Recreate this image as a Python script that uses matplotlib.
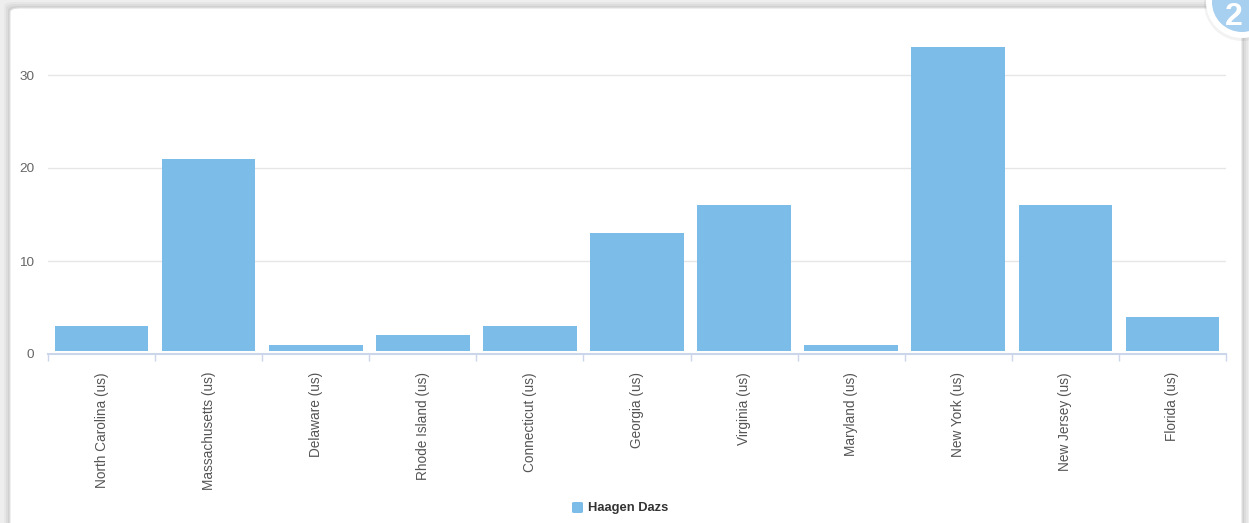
import matplotlib
matplotlib.use("Agg")
import matplotlib.pyplot as plt
from matplotlib.patches import FancyBboxPatch, Circle, Rectangle

categories = ["North Carolina (us)", "Massachusetts (us)", "Delaware (us)", "Rhode Island (us)",
              "Connecticut (us)", "Georgia (us)", "Virginia (us)", "Maryland (us)",
              "New York (us)", "New Jersey (us)", "Florida (us)"]
values = [3, 21, 1, 2, 3, 13, 16, 1, 33, 16, 4]
series_name = "Haagen Dazs"
yticks = [0, 10, 20, 30]

W, H = 1249, 523
DPI = 100
plt.rcParams['font.family'] = ['Liberation Sans', 'DejaVu Sans']

fig = plt.figure(figsize=(W / DPI, H / DPI), dpi=DPI)
fig.patch.set_facecolor('#eeeeee')

# card background with soft shadow
for i, a in enumerate([0.03, 0.04, 0.05]):
    d = (3 - i) * 2
    fig.patches.append(FancyBboxPatch(((10 - d) / W, -20 / H), (1232 + 2 * d) / W, (515 + 20 + d) / H,
                                      boxstyle="round,pad=0,rounding_size=0.008",
                                      transform=fig.transFigure, facecolor='black', alpha=a,
                                      edgecolor='none', zorder=0))
fig.patches.append(FancyBboxPatch((10 / W, -20 / H), 1232 / W, (515 + 20) / H,
                                  boxstyle="round,pad=0,rounding_size=0.008",
                                  transform=fig.transFigure, facecolor='white',
                                  edgecolor='#e2e2e2', linewidth=0.8, zorder=1))

ax_left, ax_right = 48 / W, 1226 / W
ax_bottom, ax_top = (H - 354) / H, (H - 28.5) / H
ax = fig.add_axes([ax_left, ax_bottom, ax_right - ax_left, ax_top - ax_bottom])
ax.set_facecolor('none')
ax.set_zorder(2)

x = list(range(len(categories)))
bars = ax.bar(x, values, width=0.875, color='#7cbce8', edgecolor='none', zorder=3)
# small white gap between bars and axis line
ax_h_px = (ax_top - ax_bottom) * H
ax.add_patch(Rectangle((0, 0), 1, 3.5 / ax_h_px, transform=ax.transAxes,
                       facecolor='white', edgecolor='none', zorder=3.5))

ax.set_xlim(-0.5, len(categories) - 0.5)
ax.set_ylim(0, 35)
ax.set_yticks(yticks)
ax.set_yticklabels([str(t) for t in yticks], fontsize=9.7, color='#666666')
ax.tick_params(axis='y', length=0, pad=10)
ax.yaxis.grid(True, color='#e6e6e6', linewidth=1)
ax.set_axisbelow(True)

ax.set_xticks([i + 0.5 for i in x[:-1]] + [-0.5, len(categories) - 0.5], minor=False)
ax.set_xticklabels([])
ax.tick_params(axis='x', length=5, color='#ccd6eb', width=1)
for i, c in enumerate(categories):
    ax.text(i, -18 / 9.3, c, rotation=90, ha='center', va='top', fontsize=9.8,
            color='#555555', clip_on=False)

for s in ['top', 'right', 'left']:
    ax.spines[s].set_visible(False)
ax.spines['bottom'].set_color('#ccd6eb')
ax.spines['bottom'].set_linewidth(1.5)
ax.spines['bottom'].set_zorder(5)

# legend
fig.patches.append(FancyBboxPatch((572 / W, (H - 513) / H), 11 / W, 11 / H,
                                  boxstyle="round,pad=0,rounding_size=0.002",
                                  transform=fig.transFigure, facecolor='#7cbce8',
                                  edgecolor='none', zorder=3))
fig.text(588 / W, (H - 507.5) / H, series_name, fontsize=9.3, color='#333333',
         ha='left', va='center', fontweight='bold', zorder=3)

# badge shadow + badge (circle in pixel-true inches so it stays round)
fig.patches.append(Circle((1242 / DPI, (H - 3) / DPI), 0.38, transform=fig.dpi_scale_trans,
                          facecolor='black', alpha=0.05, edgecolor='none', zorder=4))
badge = Circle((1242 / DPI, (H - 2) / DPI), 0.33, transform=fig.dpi_scale_trans,
               facecolor='#a7cff0', edgecolor='white', linewidth=4.3, zorder=4)
fig.patches.append(badge)
fig.text(1234 / W, (H - 25) / H, "2", fontsize=23, color='white', fontweight='bold',
         ha='center', va='baseline', zorder=5)

fig.savefig("out.png", dpi=DPI, facecolor=fig.get_facecolor())
